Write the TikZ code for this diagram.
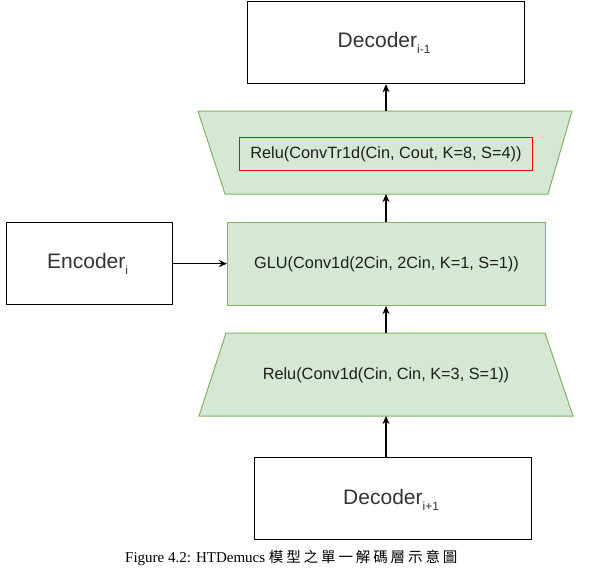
\documentclass[tikz,border=0pt]{standalone}
\usepackage{fontspec}
\setmainfont{Liberation Serif}
\newfontfamily\boxfont{Liberation Sans}
\newfontfamily\cjkfont[LetterSpace=20]{Noto Sans CJK TC}
\usetikzlibrary{arrows.meta,calc}
\definecolor{gfill}{HTML}{D5E8D4}
\definecolor{gdraw}{HTML}{82B366}
\definecolor{txtgray}{HTML}{333333}
\definecolor{txtdark}{HTML}{1E1E1E}
\newcommand{\subtx}[1]{\raisebox{-0.3em}{\fontsize{12}{12}\selectfont #1}}
\tikzset{
  plainbox/.style={draw=black, line width=1.2pt, fill=white, inner sep=0pt},
  greenbox/.style={draw=gdraw, line width=1pt, fill=gfill, inner sep=0pt},
  bigtext/.style={font=\boxfont\fontsize{21}{24}\selectfont, text=txtgray},
  smalltext/.style={font=\boxfont\fontsize{16.3}{19}\selectfont, text=txtdark},
  arr/.style={-{Stealth[length=8pt,width=7pt,inset=2.5pt]}, line width=1.2pt, draw=black},
}
\begin{document}
\begin{tikzpicture}[x=1pt,y=-1pt]
\useasboundingbox (0,0) rectangle (589,568);

% Decoder_{i-1}
\node[plainbox, minimum width=277pt, minimum height=82pt, anchor=north west] (decprev) at (247,1) {};
\node[bigtext] at ([xshift=-2pt]decprev.center) {Decoder\subtx{i-1}};

% Upper trapezoid
\coordinate (uptop) at (385,111);
\coordinate (upbot) at (386.5,194);
\draw[greenbox] (198,111) -- (572,111) -- (548,194) -- (225,194) -- cycle;
\node[draw=red, line width=0.9pt, minimum width=293pt, minimum height=33pt, anchor=north west] (redbox) at (239,137) {};
\node[smalltext] at (redbox.center) {Relu(ConvTr1d(Cin, Cout, K=8, S=4))};

% GLU
\node[greenbox, minimum width=318pt, minimum height=83pt, anchor=north west] (glu) at (227,222) {};
\node[smalltext] at (glu.center) {GLU(Conv1d(2Cin, 2Cin, K=1, S=1))};

% Encoder
\node[plainbox, minimum width=166pt, minimum height=82pt, anchor=north west] (enc) at (6,222) {};
\node[bigtext] at ([xshift=-2pt]enc.center) {Encoder\subtx{i}};

% Lower trapezoid
\coordinate (lowtop) at (386,333);
\coordinate (lowbot) at (386,416);
\draw[greenbox] (226,333) -- (545,333) -- (573,416) -- (199,416) -- cycle;
\node[smalltext] (lowtext) at (386,375) {Relu(Conv1d(Cin, Cin, K=3, S=1))};

% Decoder_{i+1}
\node[plainbox, minimum width=277pt, minimum height=82pt, anchor=north west] (decnext) at (254,457) {};
\node[bigtext] at ([xshift=-2pt,yshift=-1pt]decnext.center) {Decoder\subtx{i+1}};

% Arrows
\draw[arr] (decnext.north -| lowbot) -- (lowbot);
\draw[arr] (lowtop) -- (glu.south -| lowtop);
\draw[arr] (glu.north -| lowtop) -- (upbot -| lowtop);
\draw[arr] (uptop -| lowtop) -- (decprev.south -| lowtop);
\draw[arr] (enc.east) -- (enc.east -| glu.west);

% Caption
\node[anchor=base west, inner sep=0pt, font=\fontsize{15}{18}\selectfont] (cap) at (125,562)
  {Figure 4.2: HTDemucs {\cjkfont\fontsize{14.5}{18}\selectfont 模型之單一解碼層示意圖}};
\end{tikzpicture}
\end{document}
